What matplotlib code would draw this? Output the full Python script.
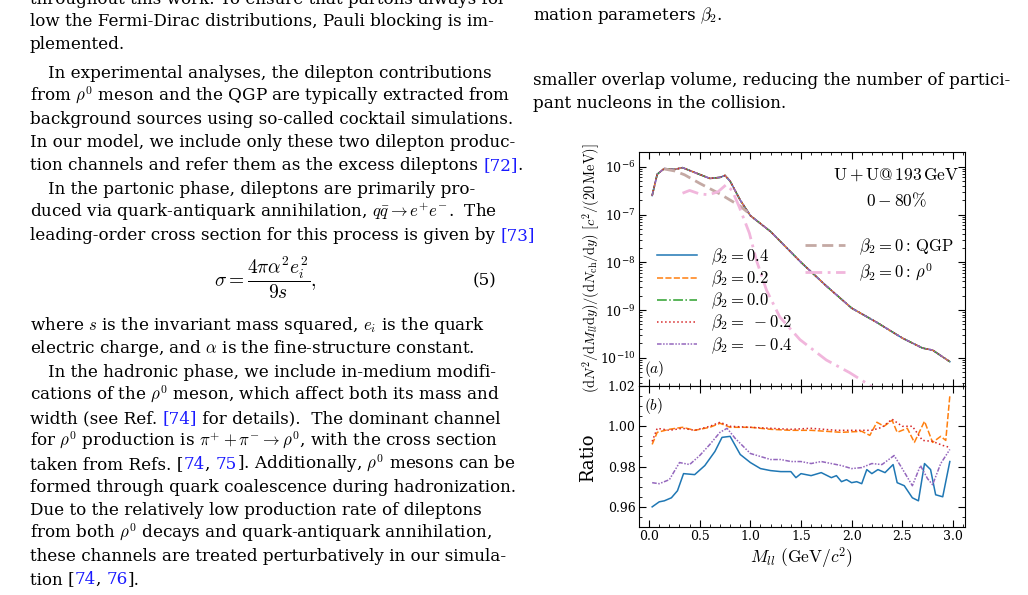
import numpy as np
import matplotlib
matplotlib.use("Agg")
import matplotlib.pyplot as plt
from matplotlib.ticker import MultipleLocator, LogLocator, NullFormatter

plt.rcParams['font.family'] = ['DejaVu Serif']
plt.rcParams['mathtext.fontset'] = 'cm'

# ---------------- data ----------------
m_tot = [0.03, 0.08, 0.15, 0.25, 0.33, 0.45, 0.6, 0.7, 0.75, 0.8, 0.9, 1.0, 1.2, 1.5, 1.75, 2.0, 2.25, 2.5, 2.7, 2.8, 2.97]
y_tot = [2.5e-7, 7e-7, 9.2e-7, 8.8e-7, 9.6e-7, 7.6e-7, 5.7e-7, 6e-7, 6.6e-7, 5e-7, 2e-7, 9.5e-8, 4.4e-8, 1e-8, 3.2e-9, 1.1e-9, 5.5e-10, 2.6e-10, 1.6e-10, 1.45e-10, 8.3e-11]
m_qgp = [0.15, 0.25, 0.35, 0.5, 0.7, 0.9, 1.0]
y_qgp = [9e-7, 8.2e-7, 6.8e-7, 4.5e-7, 2.7e-7, 1.5e-7, 1e-7]
m_rho = [0.33, 0.4, 0.5, 0.59, 0.68, 0.76, 0.82, 0.89, 0.99, 1.06, 1.16, 1.29, 1.49, 1.75, 1.98, 2.14, 2.3]
y_rho = [2.8e-7, 3.2e-7, 2.7e-7, 2.6e-7, 3.0e-7, 4.2e-7, 3.2e-7, 1.45e-7, 4.1e-8, 1.1e-8, 2.6e-9, 7.2e-10, 2.4e-10, 9e-11, 4.9e-11, 3e-11, 1.8e-11]

m_b04 = [0.03, 0.1, 0.15, 0.22, 0.28, 0.34, 0.45, 0.55, 0.65, 0.72, 0.8, 0.9, 1.0, 1.1, 1.2, 1.3, 1.4, 1.45, 1.5, 1.6, 1.7, 1.8, 1.85, 1.9, 1.95, 2.0, 2.05, 2.1, 2.15, 2.2, 2.26, 2.33, 2.41, 2.45, 2.52, 2.6, 2.66, 2.72, 2.78, 2.83, 2.9, 2.97]
r_b04 = [0.960, 0.9625, 0.963, 0.9645, 0.968, 0.9765, 0.976, 0.9805, 0.9875, 0.9945, 0.995, 0.986, 0.982, 0.979, 0.978, 0.9775, 0.9775, 0.9745, 0.9765, 0.9755, 0.977, 0.9745, 0.9755, 0.9725, 0.9735, 0.972, 0.9725, 0.9715, 0.9785, 0.9765, 0.9785, 0.977, 0.981, 0.972, 0.9705, 0.9645, 0.963, 0.9815, 0.9785, 0.966, 0.965, 0.9825]
m_bm04 = [0.03, 0.1, 0.2, 0.3, 0.4, 0.5, 0.6, 0.7, 0.77, 0.85, 1.0, 1.1, 1.2, 1.3, 1.4, 1.5, 1.6, 1.7, 1.8, 1.9, 2.0, 2.1, 2.2, 2.3, 2.42, 2.5, 2.6, 2.68, 2.75, 2.8, 2.88, 2.97]
r_bm04 = [0.972, 0.9715, 0.9735, 0.982, 0.981, 0.9855, 0.991, 0.997, 0.999, 0.994, 0.9865, 0.985, 0.9835, 0.9835, 0.9825, 0.9825, 0.9815, 0.9825, 0.9815, 0.9805, 0.979, 0.9795, 0.9815, 0.981, 0.9855, 0.979, 0.9705, 0.9805, 0.974, 0.971, 0.9815, 0.9885]
m_b02 = [0.03, 0.08, 0.2, 0.33, 0.45, 0.6, 0.7, 0.8, 1.0, 1.2, 1.4, 1.6, 1.9, 2.1, 2.18, 2.25, 2.32, 2.4, 2.45, 2.55, 2.62, 2.72, 2.8, 2.88, 2.93, 2.97]
r_b02 = [0.991, 0.997, 0.9985, 0.9995, 0.998, 0.9995, 1.0015, 0.9995, 0.9995, 0.9985, 0.998, 0.998, 0.997, 0.9975, 0.9955, 1.002, 1.0, 1.003, 0.997, 0.999, 0.992, 1.0025, 0.992, 0.995, 0.993, 1.015]
m_bm02 = [0.03, 0.08, 0.2, 0.33, 0.45, 0.6, 0.7, 0.8, 1.0, 1.2, 1.4, 1.6, 1.85, 2.0, 2.2, 2.3, 2.4, 2.5, 2.6, 2.7, 2.8, 2.9, 2.97]
r_bm02 = [0.9925, 0.999, 0.998, 0.999, 0.998, 1.0, 1.002, 1.0, 0.9995, 0.999, 0.9985, 0.999, 0.998, 0.998, 0.998, 0.9995, 1.0035, 1.0, 1.0, 0.993, 0.9925, 0.9905, 0.9895]

fig = plt.figure(figsize=(10.28, 5.95), dpi=100)
W, H = 1028, 595

def fx(px): return px / W
def fy(py): return 1 - py / H

# ---------------- page text ----------------
renderer = fig.canvas.get_renderer()
BLUE = '#1a1aff'
TF = 'DejaVu Serif'

_t = fig.text(0, 0, "low the Fermi-Dirac distributions, Pauli blocking is im-", fontsize=10, family=TF)
FS = 10 * 467 / _t.get_window_extent(renderer).width
_t.remove()

def line(x, y, segs, fs=None):
    fs = fs or FS
    cx = x
    for s in segs:
        if isinstance(s, str):
            s = (s, 'black')
        t = fig.text(fx(cx), fy(y), s[0], color=s[1], fontsize=fs,
                     va='baseline', ha='left', family=TF)
        bb = t.get_window_extent(renderer)
        cx += bb.width

L = 30
left_lines = [
    (4, L, ["throughout this work. To ensure that partons always fol-"]),
    (26, L, ["low the Fermi-Dirac distributions, Pauli blocking is im-"]),
    (49, L, ["plemented."]),
    (78, L + 18, ["In experimental analyses, the dilepton contributions"]),
    (101, L, [r"from $\rho^0$ meson and the QGP are typically extracted from"]),
    (124, L, ["background sources using so-called cocktail simulations."]),
    (147, L, ["In our model, we include only these two dilepton produc-"]),
    (170, L, ["tion channels and refer them as the excess dileptons ", ("[72]", BLUE), "."]),
    (194, L + 18, ["In the partonic phase, dileptons are primarily pro-"]),
    (217, L, [r"duced via quark-antiquark annihilation, $q\bar{q}\rightarrow e^{+}e^{-}$.  The"]),
    (240, L, ["leading-order cross section for this process is given by ", ("[73]", BLUE)]),
    (330, L, [r"where $s$ is the invariant mass squared, $e_i$ is the quark"]),
    (353, L, [r"electric charge, and $\alpha$ is the fine-structure constant."]),
    (377, L + 18, ["In the hadronic phase, we include in-medium modifi-"]),
    (400, L, [r"cations of the $\rho^0$ meson, which affect both its mass and"]),
    (423, L, ["width (see Ref. ", ("[74]", BLUE), " for details).  The dominant channel"]),
    (446, L, [r"for $\rho^0$ production is $\pi^{+}+\pi^{-}\rightarrow\rho^0$, with the cross section"]),
    (469, L, ["taken from Refs. [", ("74", BLUE), ", ", ("75", BLUE), r"]. Additionally, $\rho^0$ mesons can be"]),
    (492, L, ["formed through quark coalescence during hadronization."]),
    (515, L, ["Due to the relatively low production rate of dileptons"]),
    (538, L, [r"from both $\rho^0$ decays and quark-antiquark annihilation,"]),
    (561, L, ["these channels are treated perturbatively in our simula-"]),
    (584, L, ["tion [", ("74", BLUE), ", ", ("76", BLUE), "]."]),
    (20, 533, [r"mation parameters $\beta_2$."]),
    (85, 533, ["smaller overlap volume, reducing the number of partici-"]),
    (108, 533, ["pant nucleons in the collision."]),
]
for y, x, segs in left_lines:
    line(x, y, segs)

fig.text(fx(265), fy(278), r"$\sigma = \dfrac{4\pi\alpha^2 e_i^2}{9s},$", fontsize=14,
         ha='center', va='center')
fig.text(fx(496), fy(285), "(5)", fontsize=FS, ha='right', va='baseline', family=TF)

# ---------------- chart ----------------
axL, axR, axT, axM, axB = fx(639), fx(965), fy(152), fy(386), fy(527)
ax1 = fig.add_axes([axL, axM, axR - axL, axT - axM])
ax2 = fig.add_axes([axL, axB, axR - axL, axM - axB], sharex=ax1)

blue, orange, green, red, purple = '#1f77b4', '#ff7f0e', '#2ca02c', '#d62728', '#9467bd'
lw = 1.1
h = []
h += ax1.plot(m_tot, y_tot, color=blue, lw=lw, label=r'$\beta_2 = 0.4$')
h += ax1.plot(m_tot, y_tot, color=orange, lw=lw, ls=(0, (4, 1.5)), label=r'$\beta_2 = 0.2$')
h += ax1.plot(m_tot, y_tot, color=green, lw=lw, ls='-.', label=r'$\beta_2 = 0.0$')
h += ax1.plot(m_tot, y_tot, color=red, lw=lw, ls=':', label=r'$\beta_2 =\ -0.2$')
h += ax1.plot(m_tot, y_tot, color=purple, lw=lw, ls=(0, (3, 1, 1, 1, 1, 1)), label=r'$\beta_2 =\ -0.4$')
h2 = []
h2 += ax1.plot(m_qgp, y_qgp, color='#c4a9a4', lw=2, ls=(0, (4, 2)), label=r'$\beta_2 = 0:\,\mathrm{QGP}$')
h2 += ax1.plot(m_rho, y_rho, color='#f1b6dc', lw=2, ls=(0, (6, 2, 1, 2)), label=r'$\beta_2 = 0:\,\rho^0$')
ax1.set_yscale('log')
ax1.set_ylim(10**-10.59, 10**-5.69)
ax1.set_xlim(-0.1, 3.12)
leg1 = ax1.legend(handles=h, loc='lower left', bbox_to_anchor=(0.02, 0.08), frameon=False,
                  fontsize=12, handlelength=2.4, labelspacing=0.1, borderpad=0.2)
ax1.add_artist(leg1)
ax1.legend(handles=h2, loc='upper right', bbox_to_anchor=(1.0, 0.69), frameon=False,
           fontsize=12, handlelength=2.4, labelspacing=0.3, borderpad=0.2)
ax1.text(0.79, 0.9, r'$\mathrm{U+U@\,193\,GeV}$', transform=ax1.transAxes, ha='center', va='center', fontsize=12.5)
ax1.text(0.79, 0.79, r'$\mathrm{0-80\%}$', transform=ax1.transAxes, ha='center', va='center', fontsize=12.5)
ax1.text(0.015, 0.03, r'$(a)$', transform=ax1.transAxes, ha='left', va='bottom', fontsize=11)
ax1.yaxis.set_major_locator(LogLocator(base=10, numticks=20))
ax1.yaxis.set_minor_locator(LogLocator(base=10, subs=np.arange(2, 10), numticks=20))
ax1.yaxis.set_minor_formatter(NullFormatter())
plt.setp(ax1.get_xticklabels(), visible=False)

ax2.plot(m_b04, r_b04, color=blue, lw=lw)
ax2.plot(m_b02, r_b02, color=orange, lw=lw, ls=(0, (4, 1.5)))
ax2.plot(m_bm02, r_bm02, color=red, lw=lw, ls=':')
ax2.plot(m_bm04, r_bm04, color=purple, lw=lw, ls=(0, (3, 1, 1, 1, 1, 1)))
ax2.set_ylim(0.95, 1.02)
ax2.yaxis.set_major_locator(MultipleLocator(0.02))
ax2.yaxis.set_major_formatter(matplotlib.ticker.FormatStrFormatter('%.2f'))
ax2.yaxis.set_minor_locator(MultipleLocator(0.005))
ax2.xaxis.set_major_locator(MultipleLocator(0.5))
ax2.xaxis.set_major_formatter(matplotlib.ticker.FormatStrFormatter('%.1f'))
ax2.xaxis.set_minor_locator(MultipleLocator(0.1))
ax2.text(0.015, 0.93, r'$(b)$', transform=ax2.transAxes, ha='left', va='top', fontsize=11)

for ax in (ax1, ax2):
    ax.tick_params(which='both', direction='in', top=True, right=True, labelsize=9, pad=2.5)
    ax.tick_params(which='major', length=5)
    ax.tick_params(which='minor', length=2.5)
ax1.tick_params(axis='x', which='minor', bottom=True)

fig.text(fx(591), fy(268), r'$(\mathrm{d}N^2/\mathrm{d}M_{ll}\mathrm{d}y)/(\mathrm{d}N_{\mathrm{ch}}/\mathrm{d}y)\ [c^2/(20\,\mathrm{MeV})]$',
         rotation=90, ha='center', va='center', fontsize=10.3)
fig.text(fx(588), fy(458), 'Ratio', rotation=90, ha='center', va='center', fontsize=13, family=TF)
fig.text(fx(802), fy(558), r'$M_{ll}\ (\mathrm{GeV}/c^2)$', ha='center', va='center', fontsize=12.5)

fig.savefig('out.png', dpi=100)
